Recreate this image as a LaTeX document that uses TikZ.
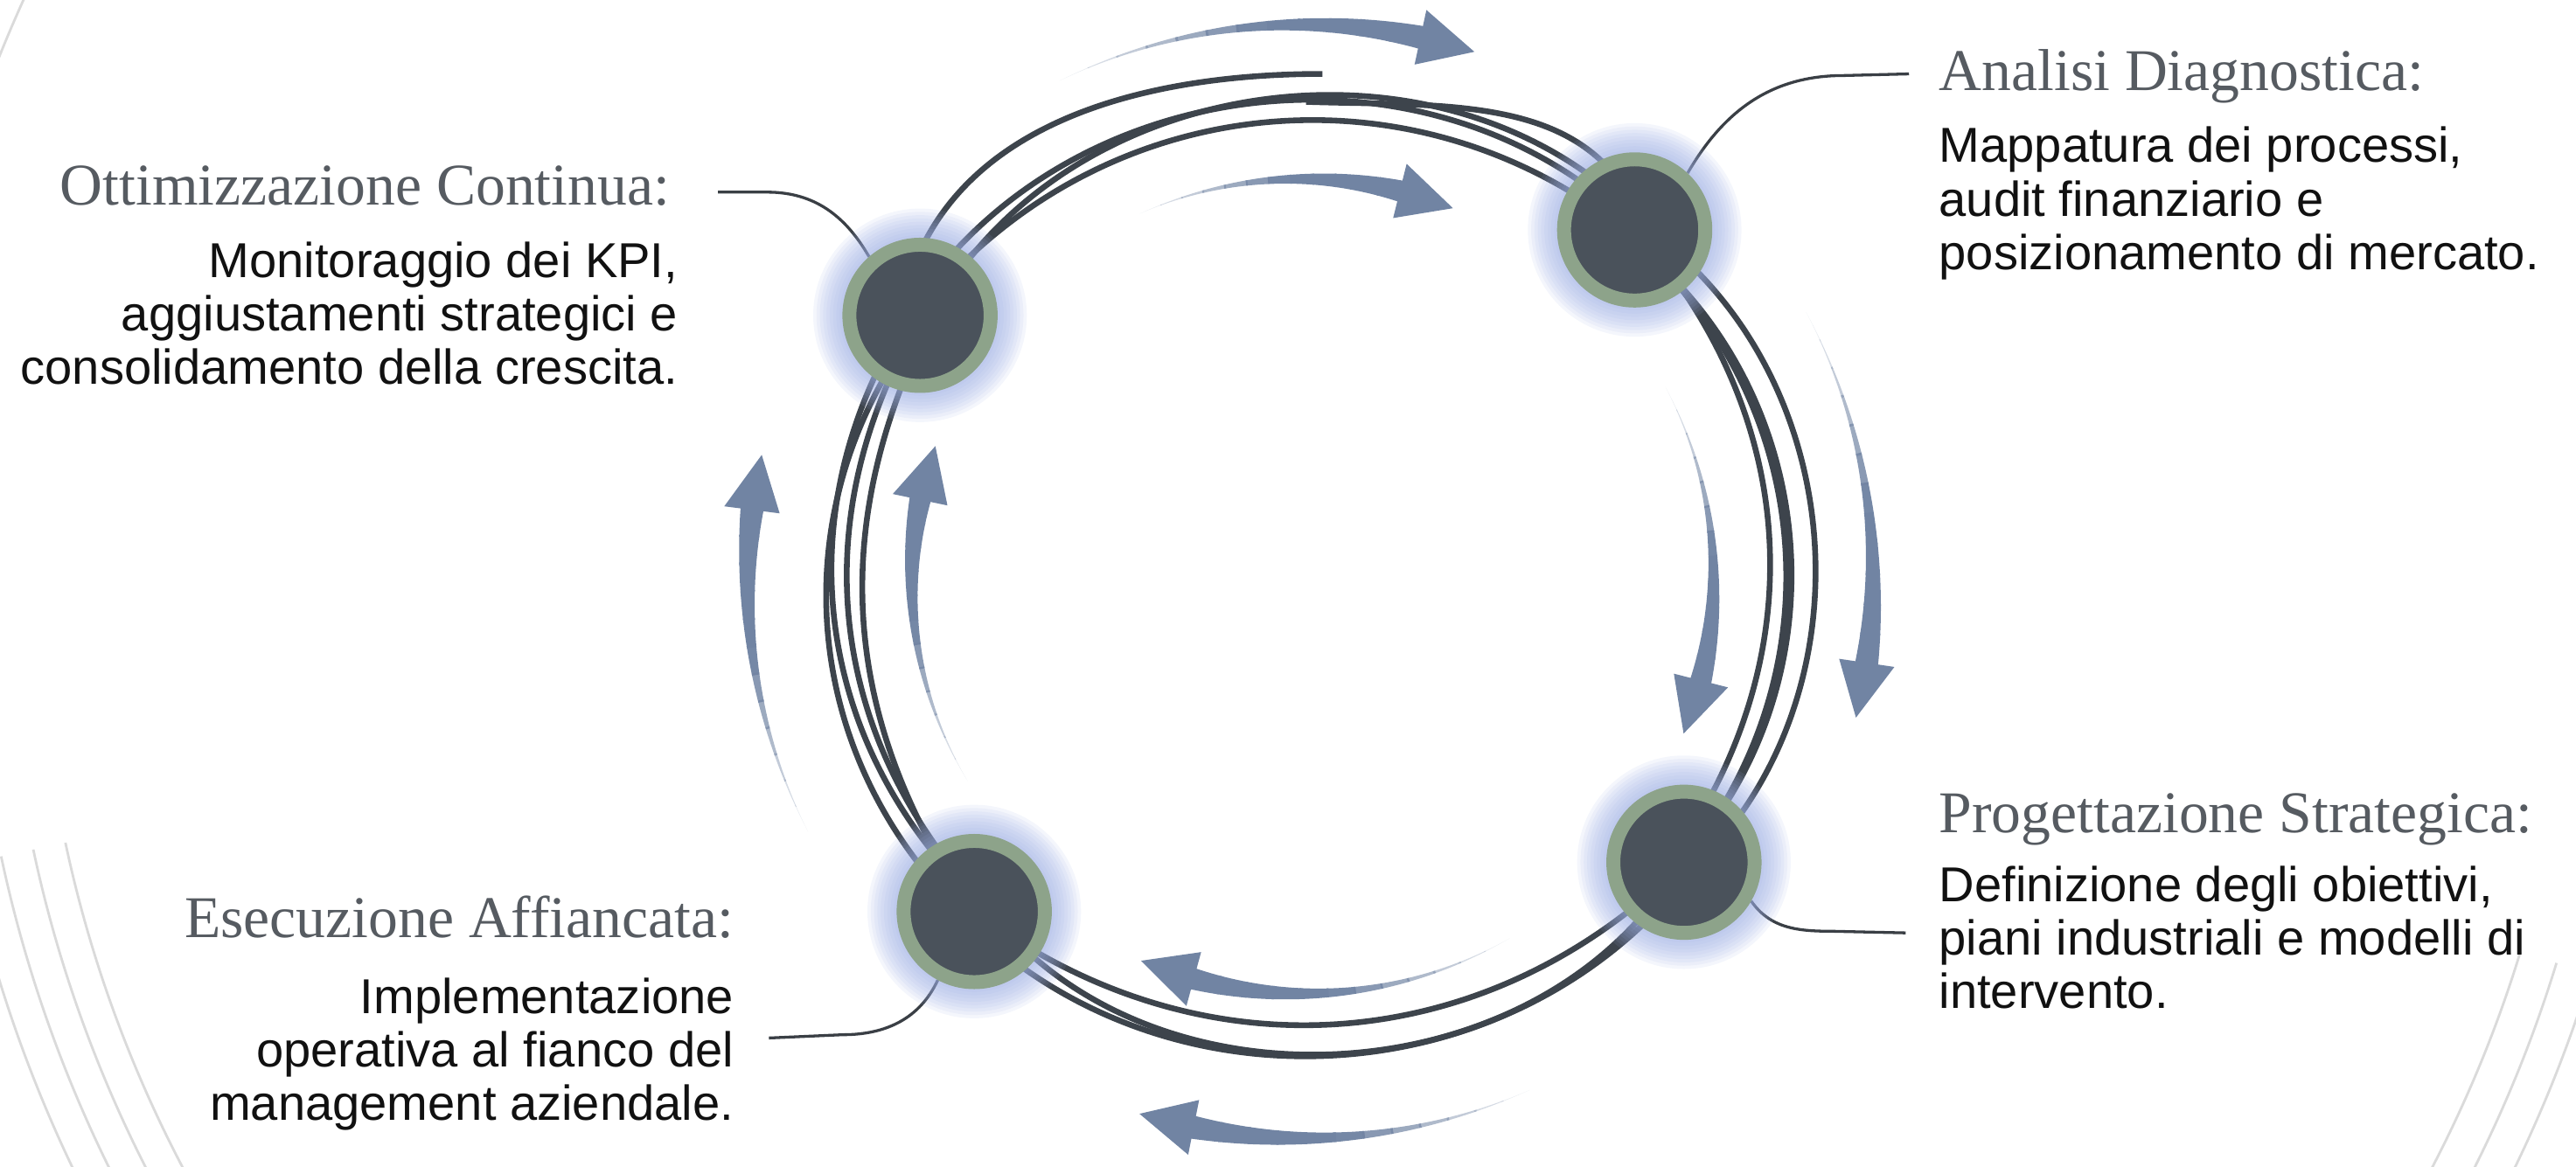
\documentclass[tikz,border=0pt]{standalone}
\usepackage{fontspec}
\setmainfont{Liberation Sans}
\newfontfamily\headfont{Liberation Serif}
\usetikzlibrary{calc}
\definecolor{strandc}{HTML}{3D444C}
\definecolor{nodefill}{HTML}{4A525B}
\definecolor{ringc}{HTML}{8DA38A}
\definecolor{glowc}{HTML}{9DAEE3}
\definecolor{arrowc}{HTML}{7184A3}
\definecolor{headc}{HTML}{565B61}
\definecolor{linkc}{HTML}{3A3F45}
\definecolor{faintc}{HTML}{DADADA}
\definecolor{bodyc}{HTML}{111111}
\pgfdeclarelayer{bg}
\pgfdeclarelayer{glow}
\pgfsetlayers{bg,glow,main}
% tapered curved arrow around the origin: #1 radius, #2 tail angle, #3 tip angle, #4 body width
\newcommand\crarrow[4]{%
  \pgfmathsetmacro\arrhb{(#3)+34/(#1)*57.2958}%
  \foreach \k in {0,...,11}{%
    \pgfmathsetmacro\ta{\k/12}%
    \pgfmathsetmacro\tb{(\k+1.08)/12}%
    \pgfmathsetmacro\op{min(1,0.15+1.5*\k/11)}%
    \fill[arrowc, opacity=\op] plot[domain=\ta:\tb,samples=6,variable=\t]
        ({(#2)+(\arrhb-(#2))*\t}:{(#1)+(#4)/2*(0.3*\t+0.7*\t*\t)})
      -- plot[domain=\ta:\tb,samples=6,variable=\s]
        ({(#2)+(\arrhb-(#2))*(\ta+\tb-\s)}:{(#1)-(#4)/2*(0.3*(\ta+\tb-\s)+0.7*(\ta+\tb-\s)*(\ta+\tb-\s))})
      -- cycle;
  }%
  \fill[arrowc] (\arrhb:{(#1)+17}) -- (#3:#1) -- (\arrhb:{(#1)-17}) -- cycle;
}
\begin{document}
\begin{tikzpicture}[x=0.02cm,y=0.02cm,
  stage/.style={circle, fill=nodefill, draw=ringc, line width=0.17cm,
                minimum size=1.72cm, inner sep=0pt},
  strand/.style={draw=strandc, line width=0.07cm},
  link/.style={draw=linkc, line width=0.035cm},
  head/.style={font=\headfont\fontsize{20.5pt}{24pt}\selectfont, text=headc, inner sep=0pt},
  body/.style={font=\fontsize{17pt}{18.5pt}\selectfont, text=bodyc, inner sep=0pt},
  faint/.style={draw=faintc, line width=0.03cm}]
\useasboundingbox (0,0) rectangle (1568,-710.5);

% stage nodes
\node[stage] (n1) at (560,-192) {};
\node[stage] (n2) at (995,-140) {};
\node[stage] (n3) at (1025,-525) {};
\node[stage] (n4) at (593,-555) {};

% texts
\node[head, anchor=base east] (h1) at (408,-125) {Ottimizzazione Continua:};
\node[body, anchor=north east, align=right] (b1) at (413,-147)
  {Monitoraggio dei KPI,\\aggiustamenti strategici e\\consolidamento della crescita.};
\node[head, anchor=base west] (h2) at (1180,-55) {Analisi Diagnostica:};
\node[body, anchor=north west, align=left] (b2) at (1180,-77)
  {Mappatura dei processi,\\audit finanziario e\\posizionamento di mercato.};
\node[head, anchor=base west] (h3) at (1180,-507) {Progettazione Strategica:};
\node[body, anchor=north west, align=left] (b3) at (1180,-527)
  {Definizione degli obiettivi,\\piani industriali e modelli di\\intervento.};
\node[head, anchor=base east] (h4) at (447,-571) {Esecuzione Affiancata:};
\node[body, anchor=north east, align=right] (b4) at (447,-595)
  {Implementazione\\operativa al fianco del\\management aziendale.};

% free ends of connectors and strands
\coordinate (c1) at (437,-117);
\coordinate (c2) at (1162,-45);
\coordinate (c3) at (1160,-568);
\coordinate (c4) at (468,-632);
\coordinate (t1) at (805,-45);
\coordinate (t2) at (795,-62);

\begin{pgfonlayer}{bg}
  % faint background arcs
  \begin{scope}[shift={(793,-353)}]
    \foreach \r in {770,790,810,830}
      \draw[faint] (192:\r) arc[start angle=192, end angle=225, radius=\r];
    \foreach \r in {775,798,820}
      \draw[faint] (-45:\r) arc[start angle=-45, end angle=-17, radius=\r];
    \draw[faint] (145:855) arc[start angle=145, end angle=170, radius=855];
  \end{scope}

  % ring strands
  \draw[strand] ([shift={(-6,4)}]n1.center) to[bend left=50] ([shift={(-4,6)}]n2.center);
  \draw[strand] ([shift={(4,8)}]n1.center) to[bend left=44] ([shift={(-8,2)}]n2.center);
  \draw[strand] ([shift={(8,2)}]n1.center) to[bend left=53] ([shift={(2,8)}]n2.center);
  \draw[strand] ([shift={(-12,0)}]n1.center) to[out=80,in=180] (t1);
  \draw[strand] (t2) to[out=-2,in=110] ([shift={(4,4)}]n2.center);

  \draw[strand] ([shift={(4,-4)}]n2.center) to[bend left=38] ([shift={(-6,4)}]n3.center);
  \draw[strand] ([shift={(-6,-2)}]n2.center) to[bend left=44] ([shift={(4,6)}]n3.center);
  \draw[strand] ([shift={(6,2)}]n2.center) to[bend left=50] ([shift={(8,-2)}]n3.center);
  \draw[strand] ([shift={(0,-8)}]n2.center) to[bend left=47] ([shift={(-2,0)}]n3.center);

  \draw[strand] ([shift={(-4,-4)}]n3.center) to[bend left=40] ([shift={(6,-4)}]n4.center);
  \draw[strand] ([shift={(4,-6)}]n3.center) to[bend left=48] ([shift={(-2,-8)}]n4.center);
  \draw[strand] ([shift={(-2,0)}]n3.center) to[bend left=56] ([shift={(8,2)}]n4.center);

  \draw[strand] ([shift={(-4,4)}]n4.center) to[bend left=30] ([shift={(6,-4)}]n1.center);
  \draw[strand] ([shift={(4,6)}]n4.center) to[bend left=36] ([shift={(-2,-6)}]n1.center);
  \draw[strand] ([shift={(-8,0)}]n4.center) to[bend left=42] ([shift={(4,0)}]n1.center);
  \draw[strand] ([shift={(0,8)}]n4.center) to[bend left=39] ([shift={(-6,2)}]n1.center);

  % flow arrows
  \begin{scope}[shift={(793,-353)}]
    \crarrow{338}{116}{72}{14}
    \crarrow{244}{114}{68}{13}
    \crarrow{347}{28}{-14}{14}
    \crarrow{250}{28}{-22}{13}
    \crarrow{252}{-60}{-113}{13}
    \crarrow{340}{-66}{-107}{14}
    \crarrow{238}{211}{160}{13}
    \crarrow{338}{207}{167}{14}
  \end{scope}

  % label connectors
  \draw[link] (c1) -- ++(30,0) to[out=0,in=120] (n1.131);
  \draw[link] (c2) -- ++(-40,-1) to[out=180,in=60] (n2.47);
  \draw[link] (c3) -- ++(-45,1) to[out=180,in=-55] (n3.-30);
  \draw[link] (c4) -- ++(45,2) to[out=0,in=-115] (n4.-118);
\end{pgfonlayer}

\begin{pgfonlayer}{glow}
  \foreach \n in {n1,n2,n3,n4}
    \foreach \r in {49,51,...,65}
      \fill[glowc, opacity=0.11] (\n) circle (\r);
\end{pgfonlayer}
\end{tikzpicture}
\end{document}
